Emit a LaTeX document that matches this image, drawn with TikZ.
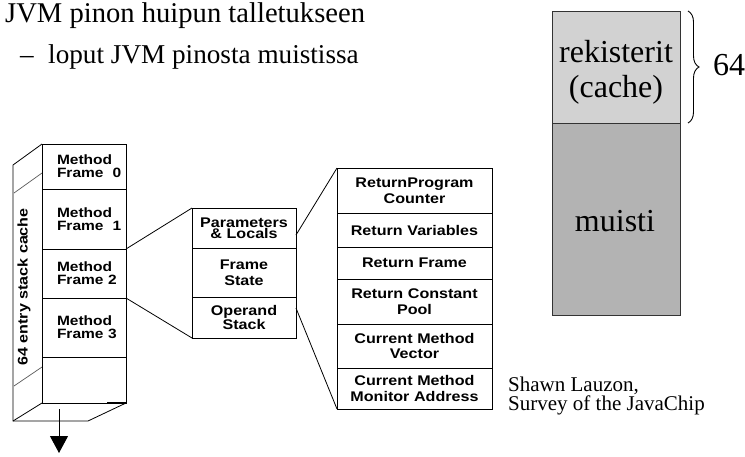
\documentclass[tikz,border=0pt]{standalone}
\usepackage{fontspec}
\setmainfont{Liberation Serif}
\newfontfamily\bmf[FakeStretch=1.15]{Liberation Sans Bold}
\usetikzlibrary{calc,arrows.meta,decorations.pathreplacing}
\newcommand\cellfont[1]{\bmf\fontsize{14}{#1}\selectfont}
\newcommand\stkfont{\bmf\fontsize{13.5}{13}\selectfont}
\definecolor{regc}{RGB}{210,210,210}
\definecolor{memc}{RGB}{179,179,179}
\begin{document}
\begin{tikzpicture}[x=1pt,y=-1pt,
  box/.style={draw, line width=0.9pt, anchor=north west, inner sep=0pt, outer sep=0pt, align=center},
  stk/.style={box, minimum width=84pt, text width=54pt, align=left, font=\stkfont},
  mid/.style={box, minimum width=104pt, text width=104pt},
  rgt/.style={box, minimum width=155pt, text width=155pt, font=\cellfont{15.5}},
  conn/.style={line width=0.8pt},
  persp/.style={line width=0.7pt, black!65},
  slide/.style={font=\fontsize{27.2}{30}\selectfont, inner sep=0pt, anchor=base west},
  gbox/.style={draw=black!80, line width=0.8pt, minimum width=128pt, anchor=north west, inner sep=0pt, outer sep=0pt},
  big/.style={font=\fontsize{32}{35}\selectfont, inner sep=0pt, anchor=base},
  cite/.style={font=\fontsize{21}{21}\selectfont, inner sep=0pt, anchor=base west}
]
\useasboundingbox (0,0) rectangle (745,456);

% title lines
\node[anchor=base west, inner sep=0pt, font=\fontsize{28.6}{32}\selectfont] (title) at (5,22) {JVM pinon huipun talletukseen};
\node[slide] (dash) at (20,63) {–};
\node[slide] (sub) at (48,63) {loput JVM pinosta muistissa};

% stack cache
\node[stk, minimum height=45pt] (s0) at (42,144) {Method\\Frame~~0};
\node[stk, minimum height=60pt] (s1) at (42,189) {Method\\Frame~~1};
\node[stk, minimum height=49pt] (s2) at (42,249) {Method\\Frame~2};
\node[stk, minimum height=59pt] (s3) at (42,298) {Method\\Frame~3};
\node[stk, minimum height=46pt] (s4) at (42,357) {};

\coordinate (bt) at (13,165);
\coordinate (bb) at (13,421);
\coordinate (bbr) at (88,421);
\draw[conn] (s0.north west) -- (bt) -- (bb) -- (bbr) -- (s4.south east);
\draw[conn] (bb) -- (s4.south west);
\coordinate (pa1) at (14,193);
\coordinate (pa2) at (42,173);
\coordinate (pb1) at (14,386);
\coordinate (pb2) at (42,367);
\draw[persp] (pa1) -- (pa2);
\draw[persp] (pb1) -- (pb2);
\draw[line width=2pt] ($(s4.south east)+(-19,0)$) -- (s4.south east);

\node[rotate=90, inner sep=0pt, font=\cellfont{14}] (cap) at (24,287) {64 entry stack cache};

\coordinate (ar0) at (59,409);
\coordinate (ar1) at (59,453);
\draw[line width=1pt, -{Triangle[width=18pt,length=17pt]}] (ar0) -- (ar1);

% method frame
\node[mid, minimum height=40pt, font=\cellfont{11.5}] (m0) at (192,208) {Parameters\\\& Locals};
\node[mid, minimum height=49pt, font=\cellfont{16}] (m1) at (192,248) {Frame\\State};
\node[mid, minimum height=41pt, font=\cellfont{13.5}] (m2) at (192,297) {Operand\\Stack};

% frame state
\node[rgt, minimum height=45pt] (r0) at (337,168) {ReturnProgram\\Counter};
\node[rgt, minimum height=34pt] (r1) at (337,213) {Return Variables};
\node[rgt, minimum height=32pt] (r2) at (337,247) {Return Frame};
\node[rgt, minimum height=45pt] (r3) at (337,279) {Return Constant\\Pool};
\node[rgt, minimum height=44pt] (r4) at (337,324) {Current Method\\Vector};
\node[rgt, minimum height=41pt] (r5) at (337,368) {Current Method\\Monitor Address};

\draw[conn] (s2.north east) -- (m0.north west);
\draw[conn] (s3.north east) -- (m2.south west);
\draw[conn] ($(m0.north east)!0.675!(m0.south east)$) -- (r0.north west);
\draw[conn] ($(m2.north east)!0.27!(m2.south east)$) -- (r5.south west);

% registers / memory
\node[gbox, fill=regc, minimum height=112pt] (reg) at (552,11) {};
\node[gbox, fill=memc, minimum height=192pt] (mem) at (552,123) {};
\node[big] (regt1) at (616,62) {rekisterit};
\node[big] (regt2) at (616,97) {(cache)};
\node[big] (memt) at (615,231) {muisti};
\draw[decorate, decoration={brace, amplitude=11pt}, line width=0.9pt] (reg.north east) ++(8,0) coordinate (br1) -- ($(reg.south east)+(8,0)$) coordinate (br2);
\node[big, anchor=base west] (sixtyfour) at (713,75) {64};

\node[cite] (cite1) at (508,391) {Shawn Lauzon,};
\node[cite] (cite2) at (508,410) {Survey of the JavaChip};
\end{tikzpicture}
\end{document}
